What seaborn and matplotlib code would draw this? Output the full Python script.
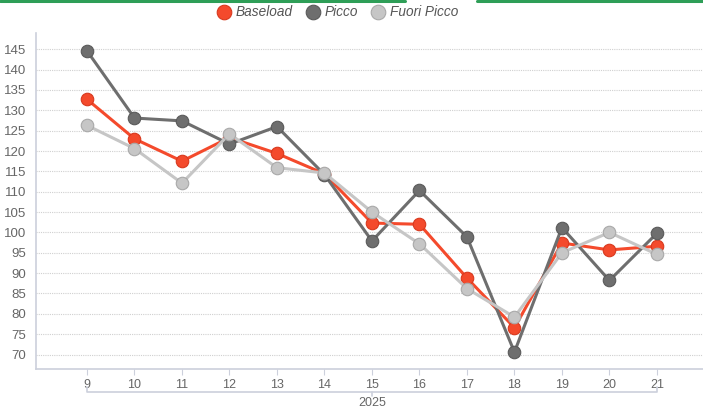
import pandas as pd
import seaborn as sns
import matplotlib.pyplot as plt
from matplotlib.lines import Line2D
import matplotlib.transforms as mtransforms

# week numbers (2025)
weeks = [9, 10, 11, 12, 13, 14, 15, 16, 17, 18, 19, 20, 21]
baseload = [132.7, 123.0, 117.5, 123.3, 119.4, 114.4, 102.3, 102.0, 88.8, 76.6, 97.4, 95.7, 96.6]
picco = [144.6, 128.1, 127.4, 121.7, 126.0, 114.2, 97.9, 110.3, 98.9, 70.6, 101.2, 88.2, 99.8]
fuori_picco = [126.3, 120.6, 112.1, 124.2, 115.9, 114.6, 105.0, 97.2, 86.2, 79.2, 95.0, 100.0, 94.6]
series_names = ['Baseload', 'Picco', 'Fuori Picco']
year_label = '2025'

colors = {'Baseload': '#f44a2c', 'Picco': '#6e6e6e', 'Fuori Picco': '#c6c6c6'}
edges = {'Baseload': '#d8391e', 'Picco': '#5a5a5a', 'Fuori Picco': '#a9a9a9'}

df = pd.DataFrame({'week': weeks * 3,
                   'value': baseload + picco + fuori_picco,
                   'serie': [s for s in series_names for _ in weeks]})

sns.set_style('white')
plt.rcParams['font.family'] = ['Liberation Sans', 'DejaVu Sans']

fig = plt.figure(figsize=(7.03, 4.12), dpi=100)
ax = fig.add_axes([0.0512, 0.1044, 0.9488, 0.8156])

for name in series_names:
    sns.lineplot(data=df[df['serie'] == name], x='week', y='value', ax=ax,
                 color=colors[name], linewidth=2.2, marker='o', markersize=9,
                 markeredgecolor=edges[name], markeredgewidth=0.8, legend=False)

ax.set_xlim(7.926, 21.97)
ax.set_ylim(66.45, 149)
ax.set_xticks(weeks)
ax.set_yticks(range(70, 146, 5))
ax.set_xlabel('')
ax.set_ylabel('')

ax.grid(axis='y', color='#d0d0d0', linestyle=(0, (1, 1)), linewidth=0.8)
ax.set_axisbelow(True)
for s in ['top', 'right']:
    ax.spines[s].set_visible(False)
for s in ['left', 'bottom']:
    ax.spines[s].set_color('#ccd0dc')
    ax.spines[s].set_linewidth(1.2)
ax.tick_params(axis='y', length=5, color='#ccd0dc', labelsize=9.5, labelcolor='#666666', pad=2)
ax.tick_params(axis='x', length=4, color='#ccd0dc', labelsize=9, labelcolor='#666666', pad=3,
               bottom=True)

# bracket with year under the week labels
trans = mtransforms.blended_transform_factory(ax.transData, ax.transAxes)
ax.plot([weeks[0], weeks[0], weeks[-1], weeks[-1]], [-0.0536, -0.0677, -0.0677, -0.0536],
        transform=trans, color='#ccd0dc', linewidth=1.2, clip_on=False)
ax.plot([15, 15], [-0.0677, -0.079], transform=trans, color='#ccd0dc', linewidth=1.2, clip_on=False)
ax.text(15, -0.1, year_label, transform=trans, ha='center', va='center',
        fontsize=9, color='#666666')

# legend
handles = [Line2D([], [], linestyle='none', marker='o', markersize=10.5,
                  markerfacecolor=colors[n], markeredgecolor=edges[n], markeredgewidth=0.8)
           for n in series_names]
leg = fig.legend(handles, series_names, loc='center', bbox_to_anchor=(0.481, 0.970),
                 ncol=3, frameon=False, handlelength=0.9, handletextpad=0.45,
                 columnspacing=1.0, prop={'style': 'italic', 'size': 9.8})
for t in leg.get_texts():
    t.set_color('#555555')

# green header strip
fig.add_artist(Line2D([0, 0.576], [0.9965, 0.9965], color='#2e9e57', linewidth=2.2))
fig.add_artist(Line2D([0.678, 1], [0.9965, 0.9965], color='#2e9e57', linewidth=2.2))

fig.savefig('out.png', dpi=100)
